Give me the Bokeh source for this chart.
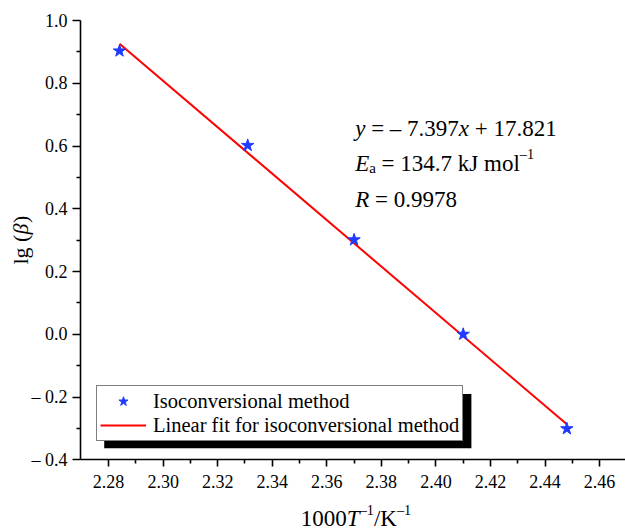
from bokeh.plotting import figure
from bokeh.models import (Legend, LegendItem, Label, BoxAnnotation, FixedTicker, Range1d,
                          LinearAxis)
from bokeh.embed import file_html
from bokeh.resources import INLINE

# ---------------- data ----------------
inv_T = [2.284, 2.331, 2.370, 2.410, 2.448]          # 1000/T (K^-1)
lg_beta = [0.903, 0.602, 0.301, 0.000, -0.301]       # lg(beta)
fit_x = [2.284, 2.448]
fit_y = [0.926, -0.287]

x_major = [2.28, 2.30, 2.32, 2.34, 2.36, 2.38, 2.40, 2.42, 2.44, 2.46]
x_minor = [2.29, 2.31, 2.33, 2.35, 2.37, 2.39, 2.41, 2.43, 2.45, 2.47]
x_labels = ["2.28", "2.30", "2.32", "2.34", "2.36", "2.38", "2.40", "2.42", "2.44", "2.46"]
y_major = [-0.4, -0.2, 0.0, 0.2, 0.4, 0.6, 0.8, 1.0]
y_minor = [-0.3, -0.1, 0.1, 0.3, 0.5, 0.7, 0.9]
y_labels = ["\u2013 0.4", "\u2013 0.2", "0.0", "0.2", "0.4", "0.6", "0.8", "1.0"]

legend_labels = ["Isoconversional method", "Linear fit for isoconversional method"]

# axis extents (data) and plot geometry (pixels)
X0, X1 = 2.2697, 2.4695
Y0, Y1 = -0.4, 1.0
W, H = 625, 530
AX_LEFT, AX_TOP, AX_BOTTOM = 80, 20, 459.3
ppx = (X1 - X0) / (W - AX_LEFT)
ppy = (Y1 - Y0) / (AX_BOTTOM - AX_TOP)

FONT = "Liberation Serif"
BLUE = "#1f3bff"

p = figure(width=W, height=H, output_backend="svg", toolbar_location=None,
           x_axis_location=None, y_axis_location=None,
           x_range=Range1d(X0 - AX_LEFT * ppx, X1),
           y_range=Range1d(Y0 - (H - AX_BOTTOM) * ppy, Y1 + AX_TOP * ppy),
           min_border_left=0, min_border_right=0, min_border_top=0, min_border_bottom=0)
p.grid.visible = False
p.outline_line_color = None
p.background_fill_color = "white"
p.border_fill_color = "white"

xaxis = LinearAxis(fixed_location=Y0, bounds=(X0, X1),
                   ticker=FixedTicker(ticks=x_major, minor_ticks=x_minor))
yaxis = LinearAxis(fixed_location=X0, bounds=(Y0, Y1),
                   ticker=FixedTicker(ticks=y_major, minor_ticks=y_minor))
for ax in (xaxis, yaxis):
    ax.axis_line_width = 1.6
    ax.axis_line_color = "black"
    ax.major_tick_line_width = 1.6
    ax.minor_tick_line_width = 1.6
    ax.major_tick_line_color = "black"
    ax.minor_tick_line_color = "black"
    ax.major_tick_in = 0
    ax.minor_tick_in = 0
    ax.minor_tick_out = 4
    ax.major_label_text_font = FONT
    ax.major_label_text_font_size = "18px"
    ax.major_label_text_color = "black"
xaxis.major_tick_out = 7
yaxis.major_tick_out = 8
xaxis.major_label_standoff = 8
yaxis.major_label_standoff = 5
xaxis.major_label_overrides = {v: s for v, s in zip(x_major, x_labels)}
yaxis.major_label_overrides = {v: s for v, s in zip(y_major, y_labels)}
p.add_layout(xaxis, "below")
p.add_layout(yaxis, "left")

r_fit = p.line(fit_x, fit_y, line_color="#ff0000", line_width=2)
r_pts = p.scatter(inv_T, lg_beta, marker="star", size=13, fill_color=BLUE, line_color=BLUE)

# ---------- composed rich texts (italic / sub / superscript) ----------
NB = "\u00a0"
BASE_FIX = 7  # px, baseline correction measured on the render
W_REG = {NB: 250, ' ': 250, '.': 250, '=': 564, '+': 564, '\u2013': 500, 'k': 500, 'J': 389,
         'm': 778, 'o': 500, 'l': 278, '/': 278, 'K': 722, '(': 333, ')': 333, 'g': 500, 'a': 444}
W_IT = {'y': 444, 'x': 444, 'E': 611, 'R': 611, 'T': 556, '\u03b2': 520}


def text_width(s, italic, size):
    tbl = W_IT if italic else W_REG
    return sum(500 if c.isdigit() else tbl.get(c, 500) for c in s) * size / 1000.0


def compose(segments, x, y, size, x_off=0.0, y_off=0.0, angle=0.0):
    """segments: (text, italic, scale, rise); placed one after another along the text direction."""
    pos = 0.0
    for txt, italic, scale, rise in segments:
        fs = size * scale
        if angle == 0:
            xo, yo = x_off + pos, y_off + rise + BASE_FIX
        else:
            xo, yo = x_off - rise - BASE_FIX, y_off + pos
        p.add_layout(Label(x=x, y=y, x_offset=xo, y_offset=yo, text=txt, angle=angle,
                           text_font=FONT, text_font_size=f"{fs:.1f}px",
                           text_font_style="italic" if italic else "normal",
                           text_color="black", text_align="left", text_baseline="alphabetic"))
        pos += text_width(txt, italic, fs)
    return pos


def total(segments, size):
    return sum(text_width(t, it, size * sc) for t, it, sc, r in segments)


# annotation block
ANN = 23
ann_x = 2.3704
line1 = [("y", True, 1, 0), (NB + "=" + NB + "\u2013" + NB + "7.397", False, 1, 0),
         ("x", True, 1, 0), (NB + "+" + NB + "17.821", False, 1, 0)]
line2 = [("E", True, 1, 0), ("a", False, 0.65, -5),
         (NB + "=" + NB + "134.7" + NB + "kJ" + NB + "mol", False, 1, 0), ("\u20131", False, 0.62, 9)]
line3 = [("R", True, 1, 0), (NB + "=" + NB + "0.9978", False, 1, 0)]
compose(line1, ann_x, 0.634, ANN)
compose(line2, ann_x, 0.522, ANN)
compose(line3, ann_x, 0.408, ANN)

# x-axis title: 1000T^-1/K^-1
TIT = 23
xt = [("1000", False, 1, 0), ("T", True, 1, 0), ("\u20131", False, 0.62, 9),
      ("/K", False, 1, 0), ("\u20131", False, 0.62, 9)]
compose(xt, (X0 + X1) / 2, Y0, TIT, x_off=3 - total(xt, TIT) / 2, y_off=-66)

# y-axis title: lg (beta)
yt = [("lg" + NB + "(", False, 1, 0), ("\u03b2", True, 1, 0), (")", False, 1, 0)]
compose(yt, X0, (Y0 + Y1) / 2, 22, x_off=-53, y_off=-total(yt, 22) / 2, angle=1.5708)

# legend shadow + legend
shadow = BoxAnnotation(left=2.2784, right=2.4130, top=-0.190, bottom=-0.363,
                       fill_color="black", fill_alpha=1.0, line_color=None)
p.add_layout(shadow)

legend = Legend(items=[LegendItem(label=legend_labels[0], renderers=[r_pts]),
                       LegendItem(label=legend_labels[1], renderers=[r_fit])],
                location=(96, 89), orientation="vertical",
                border_line_color="black", border_line_width=1,
                background_fill_color="white", background_fill_alpha=1.0,
                label_text_font=FONT, label_text_font_size="20.5px", label_text_color="black",
                padding=3, spacing=0, margin=0,
                label_height=24, glyph_height=24, glyph_width=46, label_standoff=7)
p.add_layout(legend)

open("out.html", "w").write(file_html(p, INLINE))
